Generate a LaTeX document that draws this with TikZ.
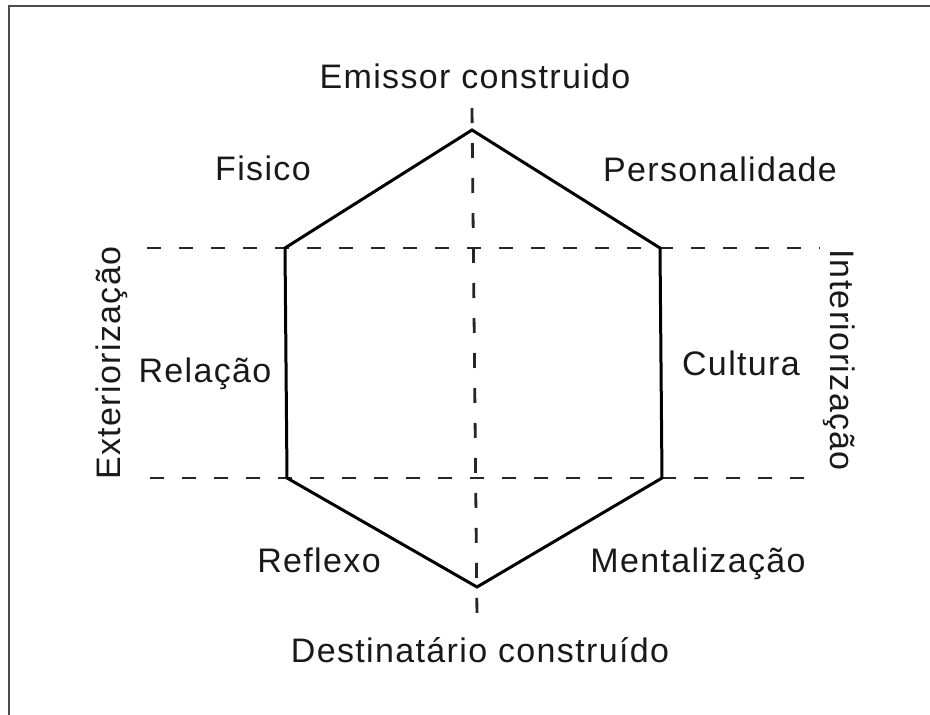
\documentclass[tikz,border=0pt]{standalone}
\usepackage{fontspec}
\setmainfont{Liberation Sans}[LetterSpace=4]
\begin{document}
\begin{tikzpicture}[x=1pt,y=-1pt,
  hexline/.style={line width=3pt,line join=miter,black},
  axisline/.style={line width=2.8pt,black!85,dash pattern=on 14pt off 18pt},
  vaxisline/.style={line width=2.8pt,black!85,dash pattern=on 15pt off 20pt},
  lbl/.style={font=\fontsize{34}{37}\selectfont,anchor=base,inner sep=0pt,text=black!90},
  framel/.style={line width=2.4pt,black!70}]
\useasboundingbox (0,0) rectangle (930,715);
% frame (only top and left edges visible)
\coordinate (fTL) at (9,5.8);
\coordinate (fTR) at (930,5.8);
\coordinate (fBL) at (9,715);
\draw[framel] (fTR) -- (fTL) -- (fBL);
% axis end points
\coordinate (vTop) at (472,108);
\coordinate (vBot) at (477,618);
\coordinate (hUL) at (147,248);
\coordinate (hUR) at (820,248);
\coordinate (hLL) at (150,478);
\coordinate (hLR) at (822,478);
% hexagon vertices
\coordinate (pT) at (472,130);
\coordinate (pUR) at (660,248);
\coordinate (pLR) at (662,478);
\coordinate (pB) at (477,587);
\coordinate (pLL) at (287,478);
\coordinate (pUL) at (285,248);
% dashed axes
\draw[vaxisline] (vTop) -- (vBot);
\draw[axisline] (hUL) -- (hUR);
\draw[axisline] (hLL) -- (hLR);
% hexagon
\draw[hexline] (pT) -- (pUR) -- (pLR) -- (pB) -- (pLL) -- (pUL) -- cycle;
% labels
\node[lbl] (emissor) at (475,88) {Emissor construido};
\node[lbl] (fisico) at (263,180) {Fisico};
\node[lbl] (person) at (720,181) {Personalidade};
\node[lbl] (relacao) at (205,382) {Relação};
\node[lbl] (cultura) at (741,375) {Cultura};
\node[lbl] (reflexo) at (319,572) {Reflexo};
\node[lbl] (mental) at (698,572) {Mentalização};
\node[lbl] (destin) at (480,662) {Destinatário construído};
\node[lbl,rotate=90] (exter) at (120,363) {Exteriorização};
\node[lbl,rotate=-90] (inter) at (830,360) {Interiorização};
\end{tikzpicture}
\end{document}
